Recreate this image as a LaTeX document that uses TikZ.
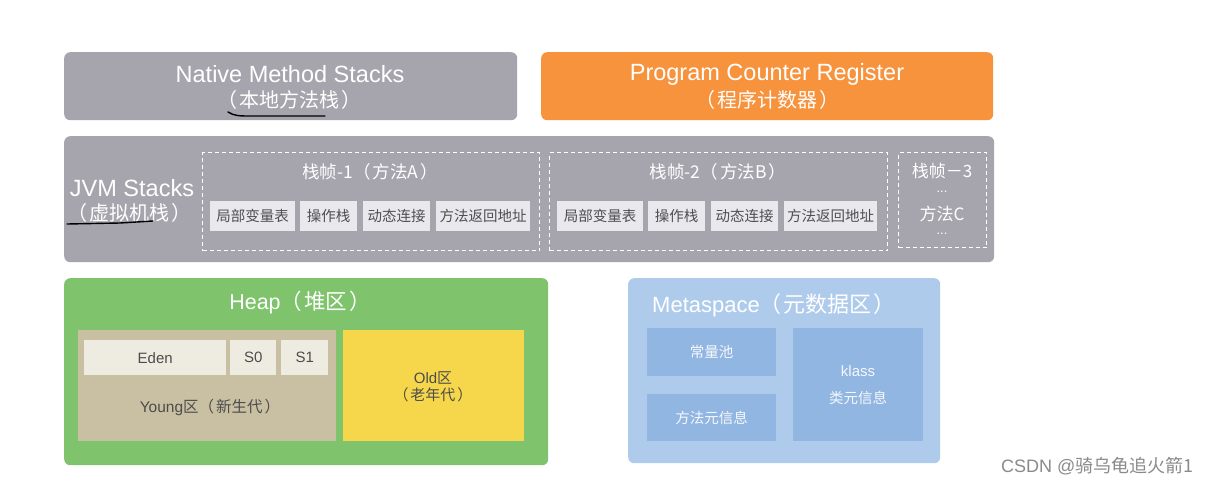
\documentclass[tikz,border=0pt]{standalone}
\usepackage{fontspec}
\setmainfont{Liberation Sans}
\newfontfamily\cjk{Noto Sans CJK SC}
\newcommand{\lpar}{（\hspace{2pt}}
\newcommand{\rpar}{\hspace{2pt}）}
\definecolor{gbox}{HTML}{A6A5AE}
\definecolor{obox}{HTML}{F7933C}
\definecolor{heapg}{HTML}{7FC46D}
\definecolor{young}{HTML}{C9C0A3}
\definecolor{eden}{HTML}{EEEBE1}
\definecolor{oldy}{HTML}{F6D74B}
\definecolor{metab}{HTML}{AFCBEC}
\definecolor{metai}{HTML}{92B6E2}
\definecolor{cell}{HTML}{E9E8EC}
\definecolor{celltxt}{HTML}{4F4E55}
\definecolor{wm}{HTML}{8A8A8A}
\tikzset{
  area/.style={rounded corners=6pt, draw=none, anchor=north west, inner sep=0pt},
  cellbox/.style={fill=cell, draw=none, anchor=north west, inner sep=0pt, text=celltxt, font=\cjk\fontsize{14.5}{16}\selectfont},
  frame/.style={draw=white, dashed, dash pattern=on 4pt off 3pt, line width=1.1pt, anchor=north west, inner sep=0pt},
  ttl/.style={text=white, align=center, inner sep=0pt},
  dots/.style={text=white, inner sep=0pt, text height=2pt, text depth=0pt, font=\fontsize{13}{14}\selectfont},
  ink/.style={draw=black, line width=1.4pt, line cap=round},
}
\begin{document}
\begin{tikzpicture}[x=1pt,y=-1pt]
\useasboundingbox[fill=white] (0,0) rectangle (1219,485);
% top row
\node[area, fill=gbox, minimum width=453pt, minimum height=68pt] (native) at (64,52) {};
\node[ttl] (nativet) at (290,74) {\fontsize{23.5}{27}\selectfont Native Method Stacks};
\node[ttl] (nativez) at (289,100) {\cjk\fontsize{20}{24}\selectfont \lpar 本地方法栈\rpar};
\node[area, fill=obox, minimum width=452pt, minimum height=68pt] (pc) at (541,52) {};
\node[ttl] (pct) at (767,74) {\fontsize{23.5}{27}\selectfont Program Counter Register};
\node[ttl] (pcz) at (767,100) {\cjk\fontsize{20}{24}\selectfont \lpar 程序计数器\rpar};
% JVM stacks
\node[area, fill=gbox, minimum width=930pt, minimum height=126pt] (jvm) at (64,136) {};
\node[ttl] (jvmt) at (132,188) {\fontsize{23.5}{27}\selectfont JVM Stacks};
\node[ttl] (jvmz) at (129,213) {\cjk\fontsize{20}{24}\selectfont \lpar 虚拟机栈\rpar};
% frame 1
\node[frame, minimum width=337pt, minimum height=98pt] (f1) at (202,152) {};
\node[ttl] (f1t) at (370,172) {\cjk\fontsize{17.5}{20}\selectfont 栈帧-1\lpar 方法A\rpar};
\node[cellbox, minimum width=85pt, minimum height=30pt] (a1) at (210,201) {局部变量表};
\node[cellbox, minimum width=57pt, minimum height=30pt] (a2) at (300,201) {操作栈};
\node[cellbox, minimum width=67pt, minimum height=30pt] (a3) at (363,201) {动态连接};
\node[cellbox, minimum width=94pt, minimum height=30pt] (a4) at (436,201) {方法返回地址};
% frame 2
\node[frame, minimum width=338pt, minimum height=98pt] (f2) at (549,152) {};
\node[ttl] (f2t) at (718,172) {\cjk\fontsize{17.5}{20}\selectfont 栈帧-2\lpar 方法B\rpar};
\node[cellbox, minimum width=86pt, minimum height=30pt] (b1) at (557,201) {局部变量表};
\node[cellbox, minimum width=57pt, minimum height=30pt] (b2) at (648,201) {操作栈};
\node[cellbox, minimum width=67pt, minimum height=30pt] (b3) at (711,201) {动态连接};
\node[cellbox, minimum width=93pt, minimum height=30pt] (b4) at (784,201) {方法返回地址};
% frame 3
\node[frame, minimum width=88pt, minimum height=95pt] (f3) at (898,152) {};
\node[ttl] (f3t) at (942,171) {\cjk\fontsize{17}{19}\selectfont 栈帧－3};
\node[dots] (f3d1) at (942,191) {...};
\node[ttl] (f3m) at (942,214) {\cjk\fontsize{17}{19}\selectfont 方法C};
\node[dots] (f3d2) at (942,233) {...};
% Heap
\node[area, fill=heapg, minimum width=484pt, minimum height=187pt] (heap) at (64,278) {};
\node[ttl] (heapt) at (300,303) {\fontsize{21.5}{25}\selectfont Heap\cjk\lpar 堆区\rpar};
\node[area, rounded corners=0pt, fill=young, minimum width=258pt, minimum height=111pt] (yg) at (78,330) {};
\node[cellbox, fill=eden, text=black!70, font=\fontsize{15}{18}\selectfont, minimum width=142pt, minimum height=35pt] (eden) at (84,340) {Eden};
\node[cellbox, fill=eden, text=black!70, font=\fontsize{15}{18}\selectfont, minimum width=46pt, minimum height=35pt] (s0) at (230,340) {S0};
\node[cellbox, fill=eden, text=black!70, font=\fontsize{15}{18}\selectfont, minimum width=47pt, minimum height=35pt] (s1) at (281,340) {S1};
\node[text=black!70, inner sep=0pt] (ygt) at (210,407) {\fontsize{15.5}{18}\selectfont Young\cjk 区\lpar 新生代\rpar};
\node[area, rounded corners=0pt, fill=oldy, minimum width=181pt, minimum height=111pt] (old) at (343,330) {};
\node[text=black!70, inner sep=0pt] (oldt) at (433,378) {\fontsize{15}{18}\selectfont Old\cjk 区};
\node[text=black!70, inner sep=0pt] (oldz) at (433,395) {\cjk\fontsize{15}{18}\selectfont \lpar 老年代\rpar};
% Metaspace
\node[area, fill=metab, minimum width=312pt, minimum height=185pt] (meta) at (628,278) {};
\node[ttl, anchor=west] (metat) at (652,305) {\fontsize{22}{25}\selectfont Metaspace\cjk\lpar 元数据区\rpar};
\node[cellbox, fill=metai, text=white!90!metai, minimum width=129pt, minimum height=48pt] (cp) at (647,328) {常量池};
\node[cellbox, fill=metai, text=white!90!metai, minimum width=129pt, minimum height=47pt] (mm) at (647,394) {方法元信息};
\node[cellbox, fill=metai, minimum width=130pt, minimum height=113pt] (kl) at (793,328) {};
\node[text=white!90!metai, inner sep=0pt] (klt) at (858,371) {\fontsize{15}{17}\selectfont klass};
\node[text=white!90!metai, inner sep=0pt] (klz) at (858,398) {\cjk\fontsize{14.5}{16}\selectfont 类元信息};
% handwritten underlines
\coordinate (u1a) at (228,112);
\coordinate (u1b) at (325,116);
\draw[ink] (u1a) .. controls (234,116) and (240,116) .. (250,116) -- (u1b);
\coordinate (u2a) at (67,224);
\coordinate (u2b) at (153,221);
\draw[ink] (u2a) -- (120,223) -- (u2b);
% watermark
\node[anchor=west, text=wm, inner sep=0pt] (wmk) at (1001,466) {\fontsize{18}{21}\selectfont CSDN @\cjk 骑乌龟追火箭1};
\end{tikzpicture}
\end{document}
